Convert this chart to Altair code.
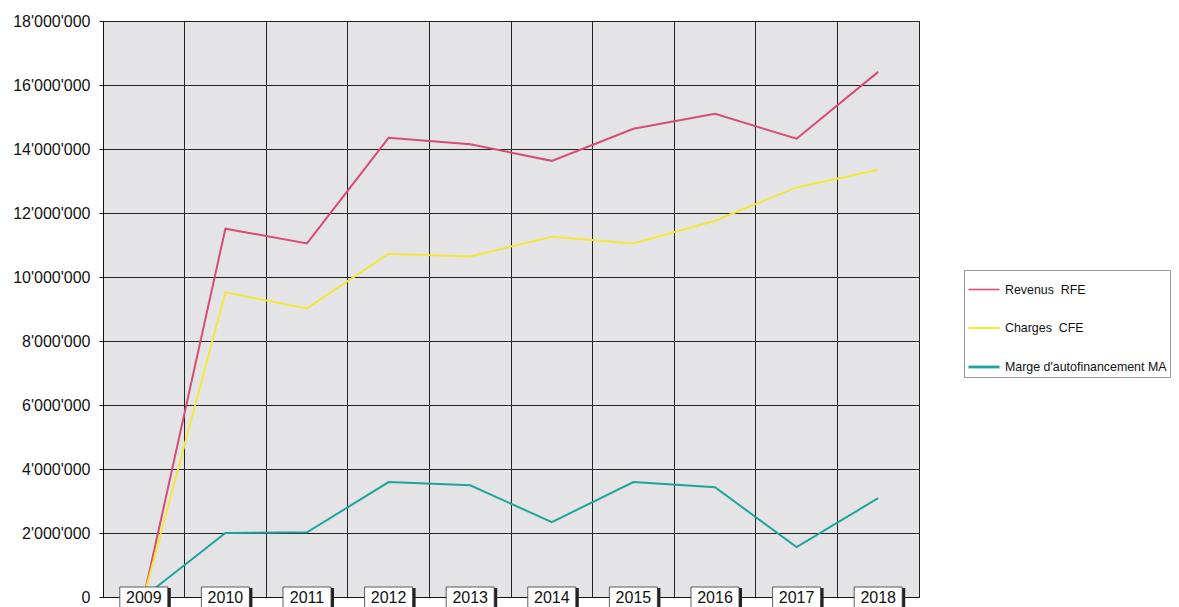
import altair as alt
import pandas as pd

years = ["2009", "2010", "2011", "2012", "2013", "2014", "2015", "2016", "2017", "2018"]
revenus = [0, 11510000, 11050000, 14350000, 14150000, 13630000, 14630000, 15100000, 14320000, 16410000]
charges = [0, 9520000, 9020000, 10730000, 10640000, 11260000, 11050000, 11760000, 12800000, 13350000]
marge = [0, 2000000, 2020000, 3590000, 3490000, 2340000, 3590000, 3430000, 1560000, 3090000]

series_names = ["Revenus\u00a0 RFE", "Charges\u00a0 CFE", "Marge d'autofinancement MA"]
series_colors = ["#d64d72", "#f2e83c", "#1fa39e"]

rows = []
for name, vals in zip(series_names, [revenus, charges, marge]):
    for y, v in zip(years, vals):
        rows.append({"year": y, "value": v, "series": name})
df = pd.DataFrame(rows)
ydf = pd.DataFrame({"year": years})

FONT = "Liberation Sans"

xscale = alt.Scale(domain=years, paddingInner=0, paddingOuter=0)
xenc = alt.X("year:N", scale=xscale, sort=years,
             axis=alt.Axis(title=None, labels=False, ticks=False, grid=True,
                           bandPosition=0, domain=True, domainColor="#111111",
                           gridColor="#222222", gridWidth=1))

lines = alt.Chart(df).mark_line(strokeWidth=2).encode(
    x=xenc,
    y=alt.Y("value:Q",
            scale=alt.Scale(domain=[0, 18000000], nice=False),
            axis=alt.Axis(title=None, values=list(range(0, 18000001, 2000000)),
                          labelExpr="replace(format(datum.value, ','), /,/g, \"'\")",
                          labelFontSize=16, labelFont=FONT, labelColor="#111111",
                          labelPadding=9, tickSize=4, tickColor="#111111",
                          domainColor="#111111", gridColor="#222222", gridWidth=1)),
    color=alt.Color("series:N",
                    scale=alt.Scale(domain=series_names, range=series_colors),
                    sort=series_names,
                    legend=alt.Legend(title=None, orient="none", legendX=861, legendY=249,
                                      symbolType="stroke", symbolSize=961, symbolStrokeWidth=2,
                                      labelFont=FONT, labelFontSize=12.4, labelColor="#111111",
                                      labelOffset=4, labelLimit=0, rowPadding=15, padding=3,
                                      strokeColor="#999999",
                                      fillColor="#ffffff")),
    strokeWidth=alt.StrokeWidth("series:N",
                                scale=alt.Scale(domain=series_names, range=[1.6, 2.8, 2.2]),
                                legend=None),
)

shadow = alt.Chart(ydf).mark_bar(width=48, color="#222222", xOffset=3).encode(
    x=alt.X("year:N", scale=xscale, sort=years),
    y=alt.value(567), y2=alt.value(600),
)
box = alt.Chart(ydf).mark_bar(width=48, color="#ffffff", stroke="#333333", strokeWidth=0.8).encode(
    x=alt.X("year:N", scale=xscale, sort=years),
    y=alt.value(566), y2=alt.value(600),
)
label = alt.Chart(ydf).mark_text(fontSize=16, font=FONT, color="#111111", baseline="middle").encode(
    x=alt.X("year:N", scale=xscale, sort=years),
    y=alt.value(577),
    text="year:N",
)

chart = alt.layer(lines, shadow, box, label).properties(
    width=816, height=576,
    autosize=alt.AutoSizeParams(type="none"),
    padding={"left": 95, "top": 13, "right": 252, "bottom": 12},
    background="#ffffff",
).configure_view(
    fill="#e4e4e6", stroke="#222222", strokeWidth=1,
)

chart.save("out.html", embed_options={"renderer": "svg", "actions": False})
